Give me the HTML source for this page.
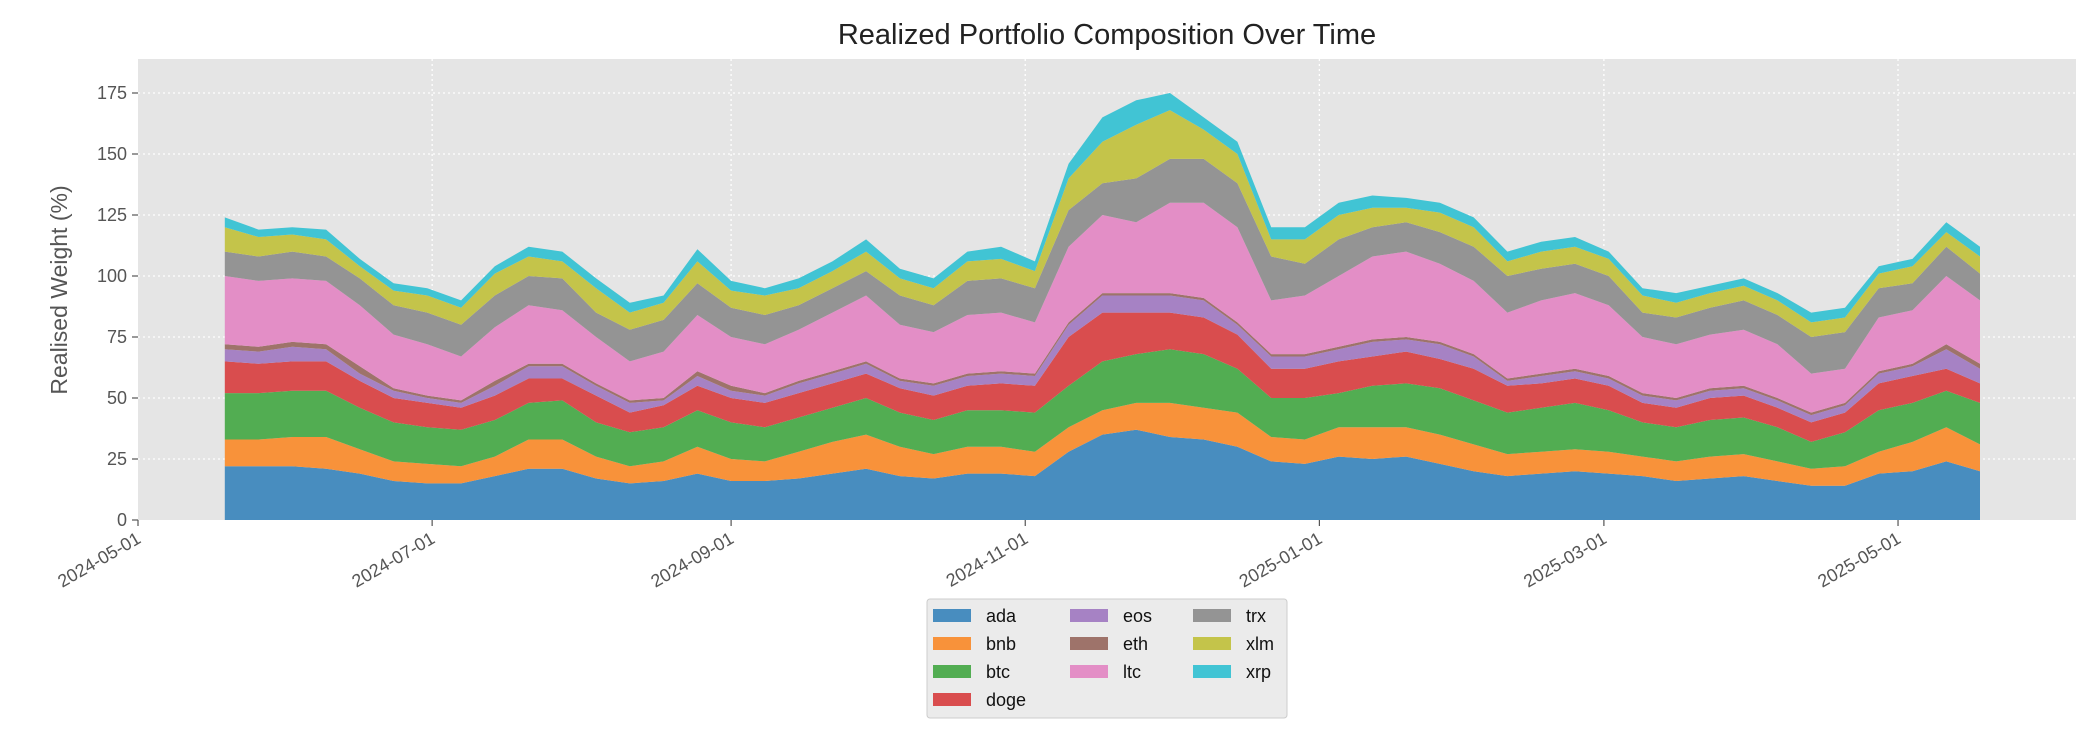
<!DOCTYPE html>
<html><head><meta charset="utf-8"><style>
html,body{margin:0;padding:0;background:#fff;}
svg{display:block;font-family:"Liberation Sans","DejaVu Sans",sans-serif;}
</style></head><body>
<svg id="chart" width="2100" height="750" viewBox="0 0 2100 750" xmlns="http://www.w3.org/2000/svg">
<text x="1107" y="44" font-size="29" text-anchor="middle" fill="#222">Realized Portfolio Composition Over Time</text>
<rect x="138" y="59" width="1938" height="461" fill="#e5e5e5"/>
<g id="grid"></g>
<g id="areas"></g>
<g id="axes"></g>
<text transform="translate(67,290) rotate(-90)" font-size="23" text-anchor="middle" fill="#555">Realised Weight (%)</text>
<g id="legend">
<rect x="927" y="599" width="360" height="119" rx="3" fill="#ebebeb" stroke="#ccc" stroke-width="1"/>
</g>
</svg>
<script>
const seriesNames = ["ada","bnb","btc","doge","eos","eth","ltc","trx","xlm","xrp"];
const yTicks = [0,25,50,75,100,125,150,175];
const xTickLabels = ["2024-05-01","2024-07-01","2024-09-01","2024-11-01","2025-01-01","2025-03-01","2025-05-01"];
const startDate = "2024-05-19";
const ada  = [22,22,22,21,19,16,15,15,18,21,21,17,15,16,19,16,16,17,19,21,18,17,19,19,18,28,35,37,34,33,30,24,23,26,25,26,23,20,18,19,20,19,18,16,17,18,16,14,14,19,20,24,20];
const bnb  = [11,11,12,13,10,8,8,7,8,12,12,9,7,8,11,9,8,11,13,14,12,10,11,11,10,10,10,11,14,13,14,10,10,12,13,12,12,11,9,9,9,9,8,8,9,9,8,7,8,9,12,14,11];
const btc  = [19,19,19,19,17,16,15,15,15,15,16,14,14,14,15,15,14,14,14,15,14,14,15,15,16,17,20,20,22,22,18,16,17,14,17,18,19,18,17,18,19,17,14,14,15,15,14,11,14,17,16,15,17];
const doge = [13,12,12,12,11,10,10,9,10,10,9,11,8,9,10,10,10,10,10,10,10,10,10,11,11,20,20,17,15,15,14,12,12,13,12,13,12,13,11,10,10,10,8,8,9,9,8,8,8,11,11,9,8];
const eos  = [5,5,6,5,3,3,2,2,4,5,5,4,4,2,4,3,3,4,4,4,3,4,4,4,4,5,7,7,7,7,4,5,5,5,6,5,6,5,2,3,3,3,3,3,3,3,3,3,3,4,4,8,6];
const eth  = [2,2,2,2,3,1,1,1,2,1,1,1,1,1,2,2,1,1,1,1,1,1,1,1,1,1,1,1,1,1,1,1,1,1,1,1,1,1,1,1,1,1,1,1,1,1,1,1,1,1,1,2,2];
const ltc  = [28,27,26,26,25,22,21,18,22,24,22,19,16,19,23,20,20,21,24,27,22,21,24,24,21,31,32,29,37,39,39,22,24,29,34,35,32,30,27,30,31,29,23,22,22,23,22,16,14,22,22,28,26];
const trx  = [10,10,11,10,11,12,13,13,13,12,13,10,13,13,13,12,12,10,10,10,12,11,14,14,14,15,13,18,18,18,18,18,13,15,12,12,13,14,15,13,12,12,10,11,11,12,12,15,15,12,11,12,11];
const xlm  = [10,8,7,7,5,6,7,7,9,8,7,10,7,7,9,7,8,7,7,8,7,7,8,8,7,13,17,22,20,12,12,7,10,10,8,6,8,8,6,7,7,7,7,6,6,6,6,6,6,6,7,6,7];
const xrp  = [4,3,3,4,3,3,3,3,3,4,4,4,4,3,5,4,3,4,4,5,4,4,4,5,4,6,10,10,7,5,5,5,5,5,5,4,4,4,4,4,4,3,3,4,3,3,3,4,4,3,3,4,4];

const seriesValues = [ada,bnb,btc,doge,eos,eth,ltc,trx,xlm,xrp];
const colors = ["#488dbf","#f8923a","#52ad52","#d94d4e","#a682c4","#9e736a","#e38ec6","#949494","#c4c44a","#41c4d4"];
const NS="http://www.w3.org/2000/svg";
const L=138,R=2076,T=59,B=520;
const DAY=86400000, origin=Date.UTC(2024,4,1);
const pxPerDay=4.822, pxPerUnit=2.44;
function xScale(ms){return L+(ms-origin)/DAY*pxPerDay;}
function yScale(v){return B-v*pxPerUnit;}
function mk(tag,attrs,parent){const e=document.createElementNS(NS,tag);for(const k in attrs)e.setAttribute(k,attrs[k]);parent.appendChild(e);return e;}
const s0=Date.parse(startDate+"T00:00:00Z");
const n=ada.length;
const dates=[];for(let i=0;i<n;i++)dates.push(s0+i*7*DAY);

const grid=document.getElementById('grid'), axes=document.getElementById('axes'), areas=document.getElementById('areas');
yTicks.forEach(v=>{
  const y=yScale(v);
  if(v>0){const g=mk('line',{x1:L,x2:R,y1:y,y2:y,stroke:'#fff','stroke-width':1.3,'stroke-dasharray':'2,3'},grid);
  
  }
  const t=mk('line',{x1:L-6,x2:L,y1:y,y2:y,stroke:'#555','stroke-width':1.2},axes);
  
  
  const tx=mk('text',{x:L-11,y:y+6,'font-size':18,'text-anchor':'end',fill:'#555'},axes);
  
  
  tx.textContent=v;
});
xTickLabels.forEach(lbl=>{
  const x=xScale(Date.parse(lbl+"T00:00:00Z"));
  if(x>L+1){const g=mk('line',{x1:x,x2:x,y1:T,y2:B,stroke:'#fff','stroke-width':1.3,'stroke-dasharray':'2,3'},grid);
  
  }
  const t=mk('line',{x1:x,x2:x,y1:B,y2:B+6,stroke:'#555','stroke-width':1.2},axes);
  
  
  const tx=mk('text',{transform:`translate(${x+4},${B+22}) rotate(-30)`,'font-size':18,'text-anchor':'end',fill:'#555'},axes);
  
  
  tx.textContent=lbl;
});
const cum=new Array(n).fill(0);
seriesValues.forEach((vals,si)=>{
  const lower=cum.slice();
  for(let i=0;i<n;i++)cum[i]+=vals[i];
  let d='';
  for(let i=0;i<n;i++)d+=(i?'L':'M')+xScale(dates[i]).toFixed(1)+','+yScale(cum[i]).toFixed(1);
  for(let i=n-1;i>=0;i--)d+='L'+xScale(dates[i]).toFixed(1)+','+yScale(lower[i]).toFixed(1);
  d+='Z';
  const p=mk('path',{d:d,fill:colors[si]},areas);
  
  
});
const legend=document.getElementById('legend');
const colStarts=[0,4,7];
seriesNames.forEach((nm,i)=>{
  const col = i<4?0:(i<7?1:2);
  const row = i-colStarts[col];
  const sx=[933,1070,1193][col], ty=616+row*28;
  const g=mk('g',{},legend);
  
  
  mk('rect',{x:sx,y:ty-7,width:38,height:13,fill:colors[i]},g);
  const t=mk('text',{x:sx+53,y:ty+6,'font-size':18,fill:'#111'},g);
  t.textContent=nm;
});
</script>
</body></html>
